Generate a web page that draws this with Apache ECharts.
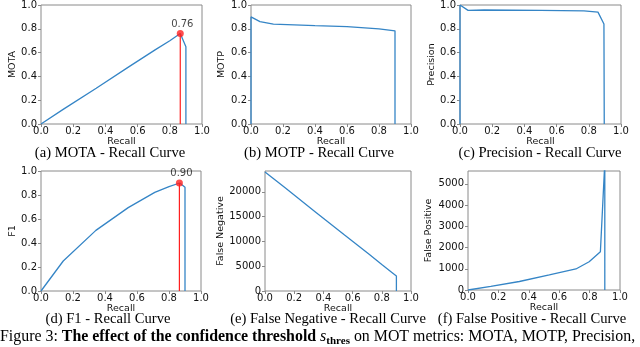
<!DOCTYPE html>
<html>
<head>
<meta charset="utf-8">
<script src="https://cdn.jsdelivr.net/npm/echarts@6/dist/echarts.min.js"></script>
<style>
  html, body { margin: 0; padding: 0; background: #fff; }
  #main { width: 640px; height: 347px; }
</style>
</head>
<body>
<div id="main"></div>
<script>
// values
const motaRecall = [0, 0.14, 0.343, 0.545, 0.711, 0.80, 0.865, 0.9, 0.9];
const motaValues = [0, 0.125, 0.30, 0.48, 0.625, 0.70, 0.76, 0.65, 0];
const motpRecall = [0, 0, 0.056, 0.14, 0.4, 0.6, 0.8, 0.9, 0.9];
const motpValues = [0, 0.9, 0.86, 0.84, 0.826, 0.818, 0.80, 0.783, 0];
const precRecall = [0, 0, 0.05, 0.15, 0.5, 0.77, 0.857, 0.894, 0.896, 0.896];
const precValues = [0, 1.0, 0.955, 0.958, 0.955, 0.95, 0.94, 0.84, 0.83, 0];
const f1Recall = [0, 0.139, 0.343, 0.545, 0.711, 0.80, 0.867, 0.9, 0.9];
const f1Values = [0, 0.25, 0.505, 0.695, 0.822, 0.87, 0.90, 0.865, 0];
const fnRecall = [0, 0.14, 0.343, 0.545, 0.711, 0.80, 0.867, 0.9, 0.9];
const fnValues = [24000, 20750, 16000, 11300, 7450, 5350, 3800, 3030, 0];
const fpRecall = [0, 0.15, 0.338, 0.535, 0.71, 0.797, 0.871, 0.9, 0.9];
const fpValues = [0, 170, 400, 710, 990, 1330, 1800, 6000, 0];

const bestRecall = 0.865;
const bestMota = 0.76;
const bestF1 = 0.90;

const yNames = ['MOTA', 'MOTP', 'Precision', 'F1', 'False Negative', 'False Positive'];
const captions = [
  '(a) MOTA - Recall Curve',
  '(b) MOTP - Recall Curve',
  '(c) Precision - Recall Curve',
  '(d) F1 - Recall Curve',
  '(e) False Negative - Recall Curve',
  '(f) False Positive - Recall Curve'
];

const pair = (xs, ys) => xs.map((x, i) => [x, ys[i]]);

const chart = echarts.init(document.getElementById('main'), null, {renderer: 'canvas'});

const blue = '#3585c6';
const frame = '#8a8a8a';
const tickFont = {fontFamily: 'DejaVu Sans', fontSize: 10, color: '#111'};

const grids = [
  {left: 41, top: 5, width: 161, height: 119},
  {left: 251, top: 5, width: 160, height: 119},
  {left: 460, top: 5, width: 161, height: 119},
  {left: 41, top: 171, width: 160, height: 120},
  {left: 265, top: 171, width: 146, height: 120},
  {left: 468, top: 171, width: 152, height: 119}
].map(g => Object.assign({show: true, borderColor: frame, borderWidth: 1, containLabel: false}, g));

const yRanges = [
  {min: 0, max: 1, interval: 0.2, gap: 23},
  {min: 0, max: 1, interval: 0.2, gap: 24},
  {min: 0, max: 1, interval: 0.2, gap: 23},
  {min: 0, max: 1, interval: 0.2, gap: 23},
  {min: 0, max: 24200, interval: 5000, gap: 37},
  {min: 0, max: 5600, interval: 1000, gap: 34}
];

const xAxes = grids.map((g, i) => ({
  gridIndex: i, type: 'value', min: 0, max: 1, interval: 0.2,
  name: 'Recall', nameLocation: 'middle', nameGap: 11,
  nameTextStyle: {fontFamily: 'DejaVu Sans', fontSize: 9.5, color: '#111'},
  axisLine: {show: false},
  axisTick: {show: true, length: 3, lineStyle: {color: frame}},
  axisLabel: Object.assign({margin: 2, formatter: v => v.toFixed(1)}, tickFont),
  splitLine: {show: false}
}));

const yAxes = yRanges.map((r, i) => ({
  gridIndex: i, type: 'value', min: r.min, max: r.max, interval: r.interval,
  name: yNames[i], nameLocation: 'middle', nameGap: r.gap,
  nameTextStyle: {fontFamily: 'DejaVu Sans', fontSize: 9.5, color: '#111'},
  axisLine: {show: false},
  axisTick: {show: true, length: 3, lineStyle: {color: frame}},
  axisLabel: Object.assign({
    margin: 4, showMaxLabel: r.max === 1,
    formatter: v => r.max === 1 ? v.toFixed(1) : String(v)
  }, tickFont),
  splitLine: {show: false}
}));

const curve = (i, data) => ({
  type: 'line', xAxisIndex: i, yAxisIndex: i, data: data,
  showSymbol: false, symbol: 'none', clip: true, animation: false,
  lineStyle: {color: blue, width: 1.3}
});

const bestLine = (i, y) => ({
  type: 'line', xAxisIndex: i, yAxisIndex: i,
  data: [[bestRecall, 0], [bestRecall, y]],
  symbol: 'none', animation: false, z: 3,
  lineStyle: {color: '#ff2020', width: 1.2}
});

const bestDot = (i, y) => ({
  type: 'scatter', xAxisIndex: i, yAxisIndex: i,
  data: [[bestRecall, y]], symbolSize: 7, z: 4, animation: false,
  itemStyle: {color: '#ff2020'},
  label: {
    show: true, position: 'top', distance: 1, offset: [2, 0],
    formatter: () => y.toFixed(2),
    fontFamily: 'DejaVu Sans', fontSize: 10, color: '#111'
  }
});

const captionPos = [[110, 153], [319, 153], [540, 153], [108, 319], [328, 319], [532, 319]];

const option = {
  backgroundColor: '#fff',
  animation: false,
  grid: grids,
  xAxis: xAxes,
  yAxis: yAxes,
  series: [
    curve(0, pair(motaRecall, motaValues)),
    bestLine(0, bestMota),
    bestDot(0, bestMota),
    curve(1, pair(motpRecall, motpValues)),
    curve(2, pair(precRecall, precValues)),
    curve(3, pair(f1Recall, f1Values)),
    bestLine(3, bestF1),
    bestDot(3, bestF1),
    curve(4, pair(fnRecall, fnValues)),
    curve(5, pair(fpRecall, fpValues))
  ],
  graphic: captions.map((c, i) => ({
    type: 'text', x: captionPos[i][0], y: captionPos[i][1],
    style: {
      text: c, fontFamily: 'Liberation Serif', fontSize: 14.6, fill: '#000',
      align: 'center', verticalAlign: 'middle'
    }
  })).concat([{
    type: 'text', x: 0, y: 337,
    style: {
      text: 'Figure 3: {b|The effect of the confidence threshold} {i|s}{sub|thres}{n| on MOT metrics: MOTA, MOTP, Precision,}',
      fontFamily: 'Liberation Serif', fontSize: 15.9, fill: '#000',
      align: 'left', verticalAlign: 'middle',
      rich: {
        b: {fontFamily: 'Liberation Serif', fontSize: 15.9, fontWeight: 'bold', fill: '#000'},
        i: {fontFamily: 'Liberation Serif', fontSize: 15.9, fontStyle: 'italic', fill: '#000'},
        sub: {fontFamily: 'Liberation Serif', fontSize: 11, fontWeight: 'bold', fill: '#000', padding: [8, 0, 0, 0]},
        n: {fontFamily: 'Liberation Serif', fontSize: 15.9, fill: '#000'}
      }
    }
  }])
};

chart.setOption(option);
</script>
</body>
</html>
